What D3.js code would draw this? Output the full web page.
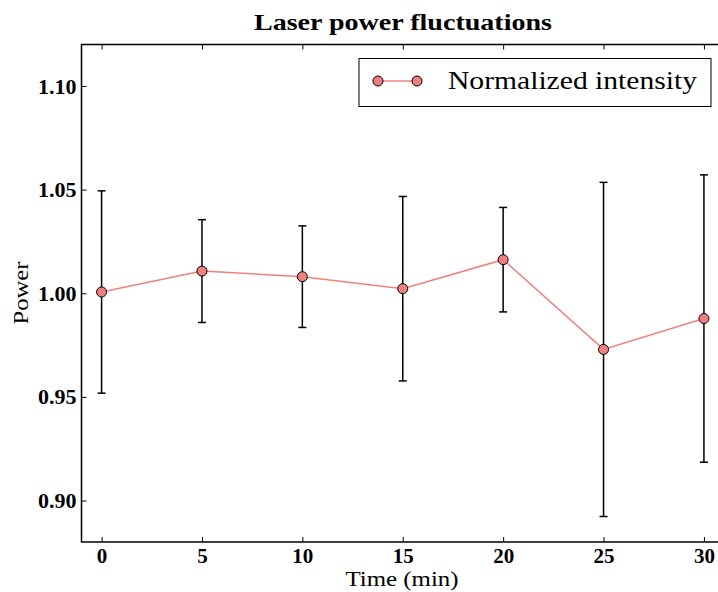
<!DOCTYPE html>
<html>
<head>
<meta charset="utf-8">
<script src="https://cdn.jsdelivr.net/npm/d3@7"></script>
<style>
body { margin: 0; background: #fff; }
svg { display: block; }
</style>
</head>
<body>
<script>
// data
var times = [0, 5, 10, 15, 20, 25, 30];
var power = [1.0006, 1.0107, 1.0080, 1.0022, 1.0162, 0.9729, 0.9878];
var powerErr = [0.0488, 0.0248, 0.0245, 0.0445, 0.0252, 0.0806, 0.0693];
var xTicks = [0, 5, 10, 15, 20, 25, 30];
var yTicks = [0.90, 0.95, 1.00, 1.05, 1.10];

(function() {
var W = 718, H = 592;
var pLeft = 81.5, pRight = 724, pTop = 44.5, pBottom = 542;
var serif = "'Liberation Serif', 'DejaVu Serif', serif";
var lineColor = "#f08080";

var svg = d3.select("body").append("svg").attr("width", W).attr("height", H);

var x = d3.scaleLinear().domain([-1, 31]).range([pLeft, pRight]);
var y = d3.scaleLinear().domain([0.88, 1.12]).range([pBottom, pTop]);

// axes, ticks pointing inward
var gx = svg.append("g").attr("transform", "translate(0," + pBottom + ")")
	.call(d3.axisBottom(x).tickValues(xTicks).tickFormat(d3.format("d")).tickSizeInner(-5).tickSizeOuter(0).tickPadding(6));
var gxTop = svg.append("g").attr("transform", "translate(0," + pTop + ")")
	.call(d3.axisTop(x).tickValues(xTicks).tickFormat("").tickSizeInner(-5).tickSizeOuter(0));
var gy = svg.append("g").attr("transform", "translate(" + pLeft + ",0)")
	.call(d3.axisLeft(y).tickValues(yTicks).tickFormat(d3.format(".2f")).tickSizeInner(-5).tickSizeOuter(0).tickPadding(5));
var gyRight = svg.append("g").attr("transform", "translate(" + pRight + ",0)")
	.call(d3.axisRight(y).tickValues(yTicks).tickFormat("").tickSizeInner(-5).tickSizeOuter(0));

[gx, gxTop, gy, gyRight].forEach(function(g) {
	g.select(".domain").remove();
	g.selectAll(".tick line").attr("stroke", "#000").attr("stroke-width", 1);
	g.selectAll(".tick text").attr("fill", "#000").attr("font-family", serif)
		.attr("font-weight", "bold");
});
gx.selectAll(".tick text").attr("font-size", 21);
gy.selectAll(".tick text").attr("font-size", 22);

// frame
svg.append("rect").attr("x", pLeft).attr("y", pTop).attr("width", pRight - pLeft).attr("height", pBottom - pTop)
	.attr("fill", "none").attr("stroke", "#000").attr("stroke-width", 1.5);

// error bars
var eb = svg.append("g");
times.forEach(function(t, i) {
	var cx = x(t);
	var y1 = y(power[i] + powerErr[i]);
	var y2 = y(power[i] - powerErr[i]);
	eb.append("line").attr("x1", cx).attr("x2", cx).attr("y1", y1).attr("y2", y2)
		.attr("stroke", "#000").attr("stroke-width", 1.5);
	eb.append("line").attr("x1", cx - 4).attr("x2", cx + 4).attr("y1", y1).attr("y2", y1)
		.attr("stroke", "#000").attr("stroke-width", 1.5);
	eb.append("line").attr("x1", cx - 4).attr("x2", cx + 4).attr("y1", y2).attr("y2", y2)
		.attr("stroke", "#000").attr("stroke-width", 1.5);
});

// line + markers
var line = d3.line().x(function(d, i) { return x(times[i]); }).y(function(d) { return y(d); });
svg.append("path").datum(power).attr("d", line).attr("fill", "none")
	.attr("stroke", lineColor).attr("stroke-width", 1.5);
svg.append("g").selectAll("circle").data(power).enter().append("circle")
	.attr("cx", function(d, i) { return x(times[i]); })
	.attr("cy", function(d) { return y(d); })
	.attr("r", 5).attr("fill", lineColor).attr("stroke", "#000").attr("stroke-width", 1);

// title and axis labels
svg.append("text").attr("x", 403).attr("y", 30).attr("text-anchor", "middle")
	.attr("font-family", serif).attr("font-size", 24).attr("font-weight", "bold")
	.attr("textLength", 298).attr("lengthAdjust", "spacingAndGlyphs")
	.text("Laser power fluctuations");
svg.append("text").attr("x", 402).attr("y", 586).attr("text-anchor", "middle")
	.attr("font-family", serif).attr("font-size", 21)
	.attr("textLength", 113).attr("lengthAdjust", "spacingAndGlyphs")
	.text("Time (min)");
svg.append("text").attr("transform", "translate(28,293) rotate(-90)").attr("text-anchor", "middle")
	.attr("font-family", serif).attr("font-size", 22)
	.attr("textLength", 63).attr("lengthAdjust", "spacingAndGlyphs")
	.text("Power");

// legend
var lg = svg.append("g");
lg.append("rect").attr("x", 359).attr("y", 58.5).attr("width", 352).attr("height", 48)
	.attr("fill", "#fff").attr("stroke", "#000").attr("stroke-width", 1);
lg.append("line").attr("x1", 378).attr("x2", 417).attr("y1", 81).attr("y2", 81)
	.attr("stroke", lineColor).attr("stroke-width", 1.5);
[378, 417].forEach(function(cx) {
	lg.append("circle").attr("cx", cx).attr("cy", 81).attr("r", 5)
		.attr("fill", lineColor).attr("stroke", "#000").attr("stroke-width", 1);
});
lg.append("text").attr("x", 448).attr("y", 89)
	.attr("font-family", serif).attr("font-size", 25)
	.attr("textLength", 249).attr("lengthAdjust", "spacingAndGlyphs")
	.text("Normalized intensity");
})();
</script>
</body>
</html>
